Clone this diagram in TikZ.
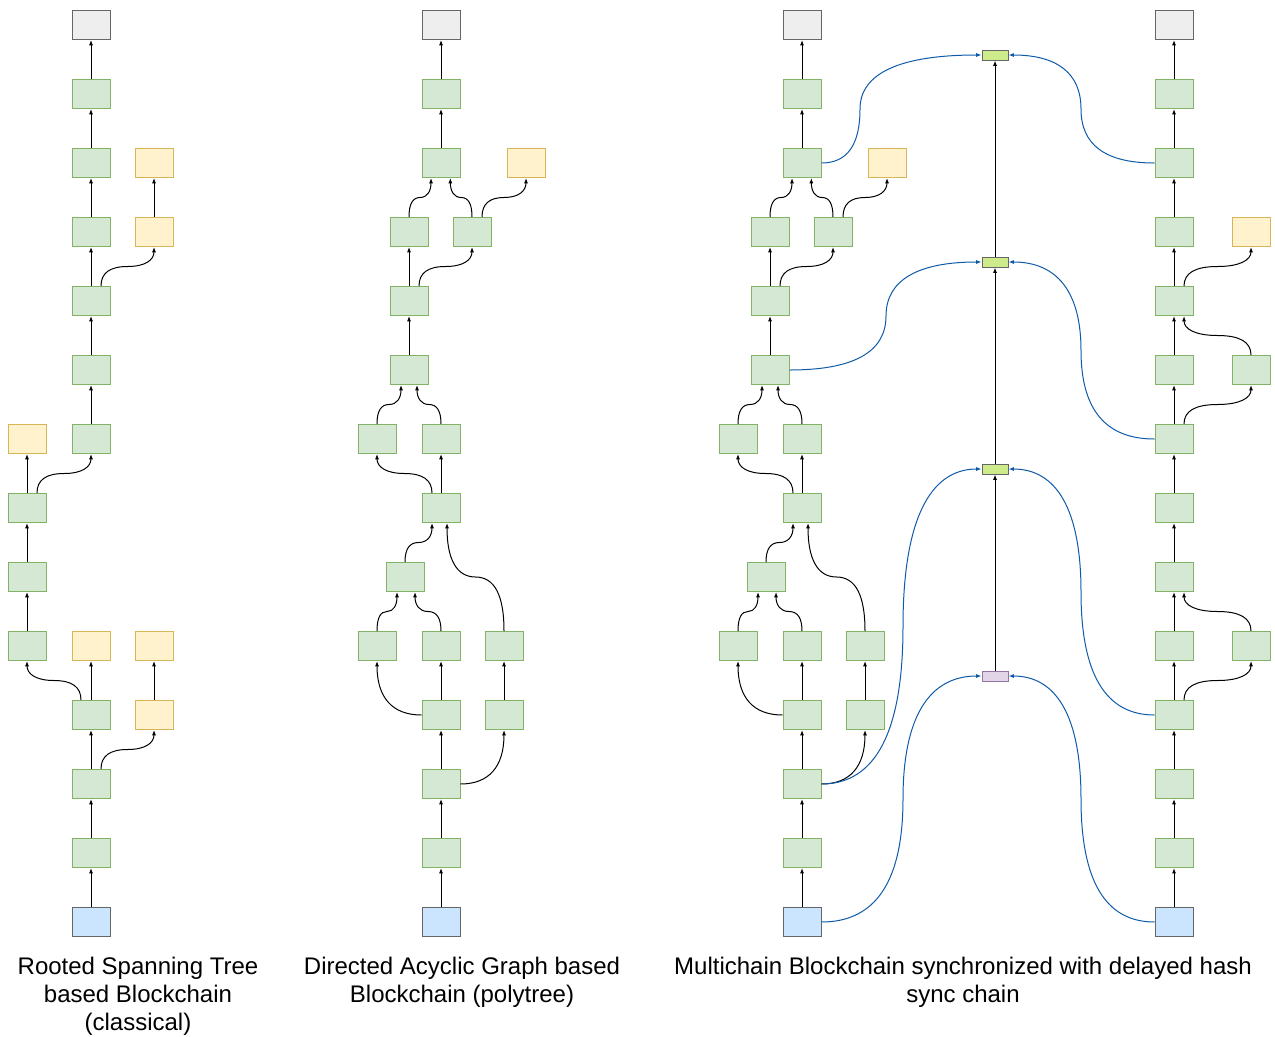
\documentclass[tikz,border=0pt]{standalone}
\usepackage{fontspec}
\setmainfont{Liberation Sans}
\usetikzlibrary{arrows.meta,calc}

\definecolor{grnL}{HTML}{D5E8D4}
\definecolor{grnD}{HTML}{82B366}
\definecolor{ylwL}{HTML}{FFF2CC}
\definecolor{ylwD}{HTML}{D6B656}
\definecolor{gryL}{HTML}{EEEEEE}
\definecolor{gryD}{HTML}{666666}
\definecolor{bluL}{HTML}{CCE5FF}
\definecolor{synL}{HTML}{CDEB8B}
\definecolor{purL}{HTML}{E1D5E7}
\definecolor{purD}{HTML}{9673A6}
\definecolor{lienC}{HTML}{0F5AA8}

\tikzset{
  bloc/.style={draw, line width=0.75pt, minimum width=28.5pt, minimum height=21.75pt, inner sep=0pt},
  vert/.style={bloc, draw=grnD, fill=grnL},
  jaune/.style={bloc, draw=ylwD, fill=ylwL},
  gris/.style={bloc, draw=gryD, fill=gryL},
  bleu/.style={bloc, draw=gryD, fill=bluL},
  hsync/.style={draw, line width=0.75pt, minimum width=19.5pt, minimum height=7.5pt, inner sep=0pt},
  fl/.style={-{Latex[length=4pt,width=3pt]}, line width=0.75pt},
  lien/.style={fl, draw=lienC},
  titre/.style={font=\fontsize{18}{21}\selectfont, align=center, anchor=north, inner sep=0pt},
  % courbe verticale-horizontale-verticale
  vhv/.style={to path={let \p1=(\tikztostart), \p2=(\tikztotarget),
    \n1={((\x1)+(\x2))/2}, \n2={((\y1)+(\y2))/2} in
    .. controls (\x1,{(\y1)+2/3*((\n2)-(\y1))}) and ({(\n1)+2/3*((\x1)-(\n1))},\n2) .. (\n1,\n2)
    .. controls ({(\n1)+2/3*((\x2)-(\n1))},\n2) and (\x2,{(\y2)+2/3*((\n2)-(\y2))}) .. (\tikztotarget)}},
  % courbe horizontale-verticale-horizontale
  hvh/.style={to path={let \p1=(\tikztostart), \p2=(\tikztotarget),
    \n1={#1*0.75pt}, \n2={((\y1)+(\y2))/2} in
    .. controls ({(\x1)+2/3*((\n1)-(\x1))},\y1) and (\n1,{(\n2)+2/3*((\y1)-(\n2))}) .. (\n1,\n2)
    .. controls (\n1,{(\n2)+2/3*((\y2)-(\n2))}) and ({(\x2)+2/3*((\n1)-(\x2))},\y2) .. (\tikztotarget)}},
  % coin horizontal puis vertical
  hv/.style={to path={let \p1=(\tikztostart), \p2=(\tikztotarget) in
    .. controls ({(\x1)+2/3*((\x2)-(\x1))},\y1) and (\x2,{(\y2)+2/3*((\y1)-(\y2))}) .. (\tikztotarget)}}
}

\begin{document}
\begin{tikzpicture}[x=0.75pt, y=0.75pt]
\useasboundingbox (0,0) rectangle (1275,-1036);

% Arbre couvrant enraciné
\node[gris]  (r0)  at (91,-25) {};
\node[vert]  (r1)  at (91,-94) {};
\node[vert]  (r2)  at (91,-163) {};
\node[jaune] (r2y) at (154,-163) {};
\node[vert]  (r3)  at (91,-232) {};
\node[jaune] (r3y) at (154,-232) {};
\node[vert]  (r4)  at (91,-301) {};
\node[vert]  (r5)  at (91,-370) {};
\node[jaune] (r6y) at (27,-439) {};
\node[vert]  (r6)  at (91,-439) {};
\node[vert]  (r7)  at (27,-508) {};
\node[vert]  (r8)  at (27,-577) {};
\node[vert]  (r9)  at (27,-646) {};
\node[jaune] (r9y) at (91,-646) {};
\node[jaune] (r9z) at (154,-646) {};
\node[vert]  (r10) at (91,-715) {};
\node[jaune] (r10y) at (154,-715) {};
\node[vert]  (r11) at (91,-784) {};
\node[vert]  (r12) at (91,-853) {};
\node[bleu]  (r13) at (91,-922) {};

\foreach \a/\b in {r13/r12, r12/r11, r11/r10, r10/r9y, r10y/r9z, r9/r8, r8/r7,
  r7/r6y, r6/r5, r5/r4, r4/r3, r3/r2, r2/r1, r1/r0, r3y/r2y}
  \draw[fl] (\a) -- (\b);
\draw[fl] ([xshift=7.5pt]r11.north) to[vhv] (r10y.south);
\draw[fl] ([xshift=-7.5pt]r10.north) to[vhv] (r9.south);
\draw[fl] ([xshift=7.5pt]r7.north) to[vhv] (r6.south);
\draw[fl] ([xshift=7.5pt]r4.north) to[vhv] (r3y.south);

% Graphe acyclique (polyarbre), deux fois
\foreach \pre/\dx in {d/0, m/361} {
\begin{scope}[shift={(\dx,0)}]
\node[gris]  (\pre0)   at (441,-25) {};
\node[vert]  (\pre1)   at (441,-94) {};
\node[vert]  (\pre2)   at (441,-163) {};
\node[jaune] (\pre2y)  at (526,-163) {};
\node[vert]  (\pre3a)  at (409,-232) {};
\node[vert]  (\pre3b)  at (472,-232) {};
\node[vert]  (\pre4)   at (409,-301) {};
\node[vert]  (\pre5)   at (409,-370) {};
\node[vert]  (\pre6a)  at (377,-439) {};
\node[vert]  (\pre6b)  at (441,-439) {};
\node[vert]  (\pre7)   at (441,-508) {};
\node[vert]  (\pre8)   at (405,-577) {};
\node[vert]  (\pre9a)  at (377,-646) {};
\node[vert]  (\pre9b)  at (441,-646) {};
\node[vert]  (\pre9c)  at (504,-646) {};
\node[vert]  (\pre10)  at (441,-715) {};
\node[vert]  (\pre10c) at (504,-715) {};
\node[vert]  (\pre11)  at (441,-784) {};
\node[vert]  (\pre12)  at (441,-853) {};
\node[bleu]  (\pre13)  at (441,-922) {};
\end{scope}
\foreach \a/\b in {13/12, 12/11, 11/10, 10/9b, 10c/9c, 7/6b, 5/4, 4/3a, 2/1, 1/0}
  \draw[fl] (\pre\a) -- (\pre\b);
\draw[fl] (\pre11.east) to[hv] (\pre10c.south);
\draw[fl] (\pre10.west) to[hv] (\pre9a.south);
\draw[fl] (\pre9a.north) to[vhv] ([xshift=-6pt]\pre8.south);
\draw[fl] (\pre9b.north) to[vhv] ([xshift=7.5pt]\pre8.south);
\draw[fl] (\pre9c.north) to[vhv] ([xshift=4.5pt]\pre7.south);
\draw[fl] (\pre8.north) to[vhv] ([xshift=-6.75pt]\pre7.south);
\draw[fl] ([xshift=-6.75pt]\pre7.north) to[vhv] (\pre6a.south);
\draw[fl] (\pre6a.north) to[vhv] ([xshift=-6pt]\pre5.south);
\draw[fl] (\pre6b.north) to[vhv] ([xshift=6pt]\pre5.south);
\draw[fl] ([xshift=7.5pt]\pre4.north) to[vhv] (\pre3b.south);
\draw[fl] (\pre3a.north) to[vhv] ([xshift=-7.5pt]\pre2.south);
\draw[fl] (\pre3b.north) to[vhv] ([xshift=7pt]\pre2.south);
\draw[fl] ([xshift=7.5pt]\pre3b.north) to[vhv] (\pre2y.south);
}

% Seconde chaîne
\node[gris] (s0) at (1174,-25) {};
\foreach \i in {1,...,12}
  \node[vert] (s\i) at (1174,{-25-69*\i}) {};
\node[bleu]  (s13) at (1174,-922) {};
\node[jaune] (s3y) at (1251,-232) {};
\node[vert]  (s5b) at (1251,-370) {};
\node[vert]  (s9b) at (1251,-646) {};
\foreach \i [evaluate=\i as \j using int(\i-1)] in {1,...,13}
  \draw[fl] (s\i) -- (s\j);
\draw[fl] ([xshift=7.5pt]s4.north) to[vhv] (s3y.south);
\draw[fl] (s5b.north) to[vhv] ([xshift=7.5pt]s4.south);
\draw[fl] ([xshift=7.5pt]s6.north) to[vhv] (s5b.south);
\draw[fl] (s9b.north) to[vhv] ([xshift=7.5pt]s8.south);
\draw[fl] ([xshift=7.5pt]s10.north) to[vhv] (s9b.south);

% Chaîne de synchronisation
\node[hsync, draw=gryD, fill=synL] (h1) at (995,-55) {};
\node[hsync, draw=gryD, fill=synL] (h2) at (995,-262) {};
\node[hsync, draw=gryD, fill=synL] (h3) at (995,-469) {};
\node[hsync, draw=purD, fill=purL] (h4) at (995,-676) {};
\draw[fl] (h4) -- (h3);
\draw[fl] (h3) -- (h2);
\draw[fl] (h2) -- (h1);

\draw[lien] (m2.east) to[hvh=860] (h1.west);
\draw[lien] (s2.west) to[hvh=1081] (h1.east);
\draw[lien] (m5.east) to[hvh=886] (h2.west);
\draw[lien] (s6.west) to[hvh=1081] (h2.east);
\draw[lien] (m11.east) to[hvh=903] (h3.west);
\draw[lien] (s10.west) to[hvh=1081] (h3.east);
\draw[lien] (m13.east) to[hvh=903] (h4.west);
\draw[lien] (s13.west) to[hvh=1081] (h4.east);

% Légendes
\node[titre] (t1) at (138,-957) {Rooted Spanning Tree\\based Blockchain\\(classical)};
\node[titre] (t2) at (462,-957) {Directed Acyclic Graph based\\Blockchain (polytree)};
\node[titre] (t3) at (963,-957) {Multichain Blockchain synchronized with delayed hash\\sync chain};
\end{tikzpicture}
\end{document}
